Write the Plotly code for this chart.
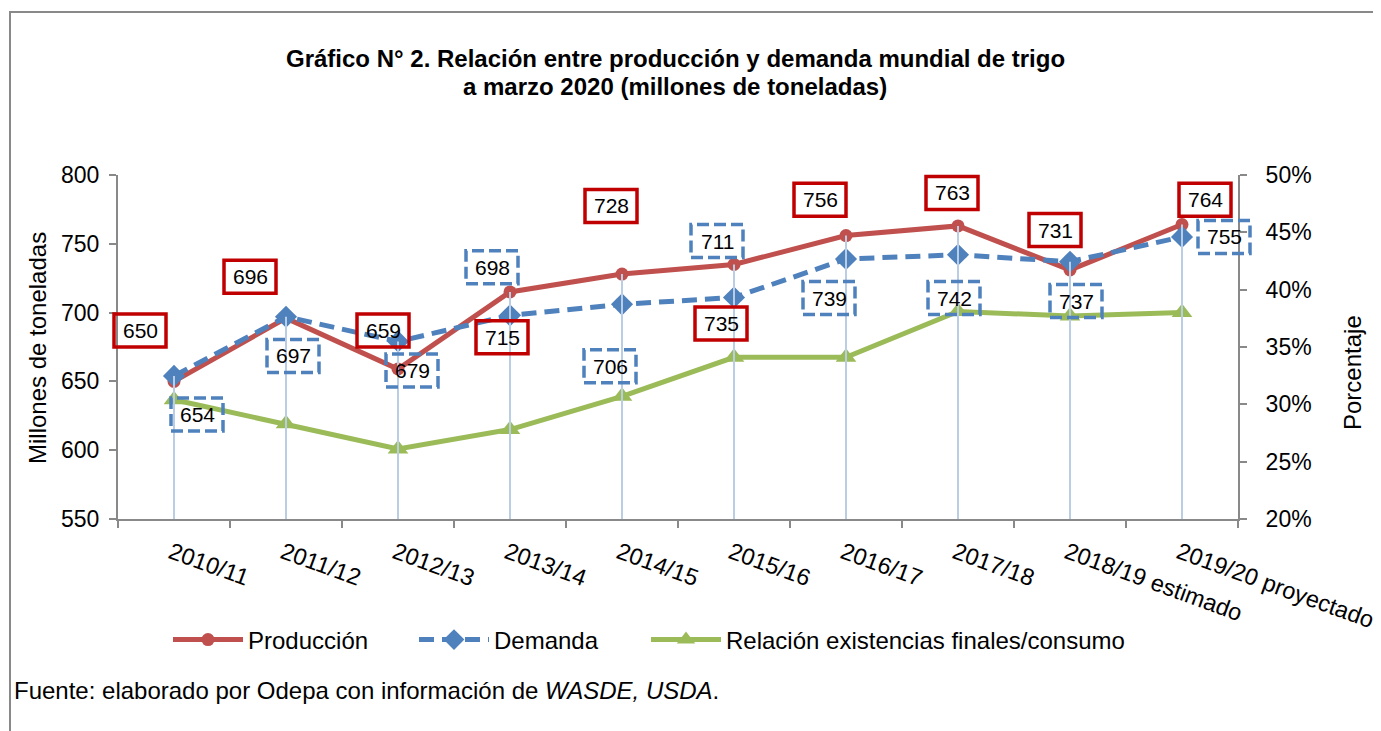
import plotly.graph_objects as go

# ---------------- data ----------------
categories = ["2010/11", "2011/12", "2012/13", "2013/14", "2014/15", "2015/16",
              "2016/17", "2017/18", "2018/19 estimado", "2019/20 proyectado"]
produccion = [650, 696, 659, 715, 728, 735, 756, 763, 731, 764]
demanda = [654, 697, 679, 698, 706, 711, 739, 742, 737, 755]
relacion = [30.4, 28.3, 26.1, 27.8, 30.7, 34.1, 34.1, 38.1, 37.7, 38.0]  # %

y_ticks = [550, 600, 650, 700, 750, 800]
y2_ticks = [20, 25, 30, 35, 40, 45, 50]

# ---------------- label placement (layout only) ----------------
prod_lbl_y = [687, 726, 687, 682, 777.5, 692, 782, 787, 760, 782]
prod_lbl_dx = [-34, -36, -15, -8, -11, -13, -26, -6, -15, 23]
dem_lbl_y = [626, 668.5, 658, 733, 661, 752, 710.6, 710.6, 708.4, 755]
dem_lbl_dx = [23, 7, 14, -18, -12, -17, -17, -4, 6, 42]

# ---------------- geometry (reference-picture pixels) ----------------
OFF = 8                      # page body margin
W, H = 1381 - OFF, 731 - OFF
L, R, T, B = 118, 1238, 175, 519
PW, PH = R - L, B - T


def px(x):
    return (x - L) / PW


def py(y):
    return (B - y) / PH


N = len(categories)
ymin, ymax = y_ticks[0], y_ticks[-1]


def cat_paper(i):          # category centre as a fraction of the x axis
    return (i + 0.5) / N


def val_paper(v):          # left-axis value as a fraction of the y axis
    return (v - ymin) / (ymax - ymin)


RED = "#C0504D"
BLUE = "#4F81BD"
GREEN = "#9BBB59"
BOXRED = "#C00000"
DROP = "#B9CDE5"
AXIS = "#898989"
FONT = "Liberation Sans, Arial, sans-serif"

fig = go.Figure()

fig.add_trace(go.Scatter(
    x=categories, y=produccion, name="Producción", mode="lines+markers",
    line=dict(color=RED, width=5),
    marker=dict(symbol="circle", size=13, color=RED),
    legendwidth=161, yaxis="y"))

fig.add_trace(go.Scatter(
    x=categories, y=demanda, name="Demanda", mode="lines+markers",
    line=dict(color=BLUE, width=5, dash="15px,8px"),
    marker=dict(symbol="diamond", size=17, color=BLUE),
    legendwidth=147, yaxis="y"))

fig.add_trace(go.Scatter(
    x=categories, y=relacion, name="Relación existencias finales/consumo",
    mode="lines+markers",
    line=dict(color=GREEN, width=5),
    marker=dict(symbol="triangle-up", size=18, color=GREEN),
    yaxis="y2"))

# drop lines from the highest value at each category down to the axis
dx_, dy_ = [], []
for c, p, d in zip(categories, produccion, demanda):
    dx_ += [c, c, None]
    dy_ += [max(p, d), ymin, None]
fig.add_trace(go.Scatter(
    x=dx_, y=dy_, mode="lines", line=dict(color=DROP, width=2),
    showlegend=False, hoverinfo="skip", yaxis="y3"))

annotations = []
shapes = []

# data labels
for i, v in enumerate(produccion):
    annotations.append(dict(
        x=i, y=prod_lbl_y[i], xref="x", yref="y", xshift=prod_lbl_dx[i],
        text=str(v), showarrow=False, font=dict(size=21, color="black", family=FONT)))
    shapes.append(dict(
        type="rect", xref="paper", yref="paper", xsizemode="pixel", ysizemode="pixel",
        xanchor=cat_paper(i), yanchor=val_paper(prod_lbl_y[i]),
        x0=prod_lbl_dx[i] - 26, x1=prod_lbl_dx[i] + 26, y0=-16.5, y1=16.5,
        line=dict(color=BOXRED, width=3.5), fillcolor="rgba(0,0,0,0)"))
for i, v in enumerate(demanda):
    annotations.append(dict(
        x=i, y=dem_lbl_y[i], xref="x", yref="y", xshift=dem_lbl_dx[i],
        text=str(v), showarrow=False, font=dict(size=21, color="black", family=FONT)))
    shapes.append(dict(
        type="rect", xref="paper", yref="paper", xsizemode="pixel", ysizemode="pixel",
        xanchor=cat_paper(i), yanchor=val_paper(dem_lbl_y[i]),
        x0=dem_lbl_dx[i] - 26, x1=dem_lbl_dx[i] + 26, y0=-16.5, y1=16.5,
        line=dict(color=BLUE, width=3.5, dash="12px,5px"), fillcolor="rgba(0,0,0,0)"))

# title
annotations.append(dict(
    x=px(675), y=py(58), xref="paper", yref="paper", xanchor="center", yanchor="middle",
    text="<b>Gráfico N° 2. Relación entre producción y demanda mundial de trigo</b>",
    showarrow=False, font=dict(size=24, color="black", family=FONT)))
annotations.append(dict(
    x=px(675), y=py(86), xref="paper", yref="paper", xanchor="center", yanchor="middle",
    text="<b>a marzo 2020 (millones de toneladas)</b>",
    showarrow=False, font=dict(size=24, color="black", family=FONT)))

# axis titles
annotations.append(dict(
    x=px(37), y=py(348), xref="paper", yref="paper", xanchor="center", yanchor="middle",
    text="Millones de toneladas", textangle=-90, showarrow=False,
    font=dict(size=24, color="black", family=FONT)))
annotations.append(dict(
    x=px(1352), y=py(373), xref="paper", yref="paper", xanchor="center", yanchor="middle",
    text="Porcentaje", textangle=-90, showarrow=False,
    font=dict(size=24, color="black", family=FONT)))

# source
annotations.append(dict(
    x=px(12), y=py(690), xref="paper", yref="paper", xanchor="left", yanchor="middle",
    text="Fuente: elaborado por Odepa con información de <i>WASDE, USDA</i>.",
    showarrow=False, font=dict(size=24, color="black", family=FONT)))

# outer frame
shapes.append(dict(
    type="rect", xref="paper", yref="paper",
    x0=px(10), x1=px(1420), y0=py(770), y1=py(12),
    line=dict(color=AXIS, width=2), fillcolor="rgba(0,0,0,0)", layer="below"))

axis_common = dict(showline=True, linecolor=AXIS, linewidth=2, ticks="outside",
                   ticklen=7, tickwidth=2, tickcolor=AXIS, showgrid=False, zeroline=False,
                   automargin=False)
tickfont = dict(size=23, color="black", family=FONT)

fig.update_layout(
    width=W, height=H,
    margin=dict(l=L - OFF, r=W - (R - OFF), t=T - OFF, b=H - (B - OFF), pad=0,
                autoexpand=False),
    paper_bgcolor="white", plot_bgcolor="white",
    font=dict(family=FONT, color="black"),
    xaxis=dict(type="category", range=[-0.5, N - 0.5],
               tickson="boundaries", tickangle=20, ticklabelstandoff=9,
               ticklabelshift=-3,
               tickfont=dict(size=23.5, color="black", family=FONT), **axis_common),
    yaxis=dict(range=[ymin, ymax], tickvals=y_ticks,
               ticklabelstandoff=5, tickfont=tickfont, **axis_common),
    yaxis2=dict(range=[y2_ticks[0], y2_ticks[-1]], tickvals=y2_ticks,
                ticktext=[f"{v}%" for v in y2_ticks], overlaying="y", side="right",
                ticklabelstandoff=14, tickfont=tickfont, **axis_common),
    yaxis3=dict(range=[ymin, ymax], overlaying="y", visible=False),
    showlegend=True,
    legend=dict(orientation="h", x=px(168), xanchor="left", y=py(640), yanchor="middle",
                font=dict(size=24, color="black", family=FONT), bgcolor="rgba(0,0,0,0)",
                traceorder="normal", itemwidth=70),
    annotations=annotations,
    shapes=shapes,
)

fig.write_html("out.html")
